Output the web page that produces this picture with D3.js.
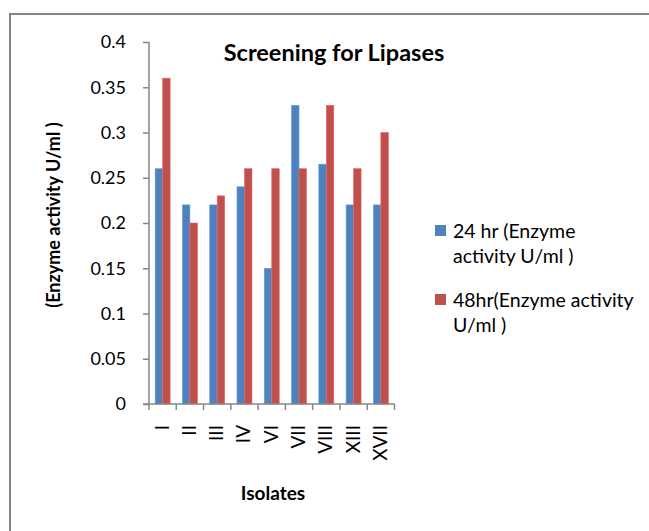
<!DOCTYPE html>
<html>
<head>
<meta charset="utf-8">
<script src="https://cdn.jsdelivr.net/npm/d3@7"></script>
<style>
  html, body { margin: 0; padding: 0; background: #fff; }
  svg { display: block; }
  text { font-family: Lato, "Liberation Sans", sans-serif; fill: #000; }
</style>
</head>
<body>
<svg id="chart" width="649" height="531"></svg>
<script>
// Isolates screened and the lipase activity measured at 24 h and 48 h
const isolates = ["I", "II", "III", "IV", "VI", "VII", "VIII", "XIII", "XVII"];
const activity24 = [0.26, 0.22, 0.22, 0.24, 0.15, 0.33, 0.265, 0.22, 0.22];
const activity48 = [0.36, 0.20, 0.23, 0.26, 0.26, 0.26, 0.33, 0.26, 0.30];
const seriesNames = ["24 hr (Enzyme activity U/ml )", "48hr(Enzyme activity U/ml )"];
const legendLines = [["24 hr (Enzyme", "activity U/ml )"], ["48hr(Enzyme activity", "U/ml )"]];
const yTicks = [0, 0.05, 0.1, 0.15, 0.2, 0.25, 0.3, 0.35, 0.4];
const colors = ["#4F81BD", "#C0504D"];

const svg = d3.select("#chart");

// outer chart frame
svg.append("rect")
  .attr("x", 10).attr("y", 14)
  .attr("width", 700).attr("height", 600)
  .attr("fill", "none").attr("stroke", "#868686").attr("stroke-width", 2);

const plot = { left: 149, right: 394.5, top: 42, bottom: 404 };

const x = d3.scaleBand().domain(isolates).range([plot.left, plot.right]).padding(0);
const xs = d3.scaleBand().domain([0, 1]).range([0, x.bandwidth()]).paddingInner(0).paddingOuter(0.82);
const y = d3.scaleLinear().domain([0, 0.4]).range([plot.bottom, plot.top]);

const rows = isolates.map((k, i) => ({ key: k, values: [activity24[i], activity48[i]] }));

// bars
const groups = svg.append("g").selectAll("g").data(rows).join("g")
  .attr("transform", d => `translate(${x(d.key)},0)`);
groups.selectAll("rect").data(d => d.values.map((v, s) => ({ v, s }))).join("rect")
  .attr("x", d => xs(d.s))
  .attr("width", xs.bandwidth())
  .attr("y", d => y(d.v))
  .attr("height", d => y(0) - y(d.v))
  .attr("fill", d => colors[d.s])
  .attr("stroke", d => d3.color(colors[d.s]).brighter(0.6))
  .attr("stroke-width", 0.6);

// y axis
const yAxis = d3.axisLeft(y).tickValues(yTicks).tickSize(6).tickPadding(17)
  .tickFormat(d => d3.format("")(+d.toFixed(2)));
const gy = svg.append("g").attr("transform", `translate(${plot.left},0)`).call(yAxis);
gy.selectAll("path, line").attr("stroke", "#868686").attr("stroke-width", 1.5);
gy.select(".domain").attr("d", `M0,${plot.top}V${plot.bottom}`);
gy.selectAll("text").attr("font-size", 18).attr("font-family", "Lato, sans-serif").attr("fill", "#000");

// x axis with ticks between categories
const gx = svg.append("g").attr("transform", `translate(0,${plot.bottom})`);
gx.append("line").attr("x1", plot.left - 6).attr("x2", plot.right).attr("y1", 0).attr("y2", 0)
  .attr("stroke", "#868686").attr("stroke-width", 1.5);
const bounds = isolates.map(k => x(k)).concat([plot.right]);
gx.selectAll("line.tick").data(bounds).join("line").attr("class", "tick")
  .attr("x1", d => d).attr("x2", d => d).attr("y1", 0).attr("y2", 6)
  .attr("stroke", "#868686").attr("stroke-width", 1.5);
gx.selectAll("text").data(isolates).join("text")
  .attr("transform", d => `translate(${x(d) + x.bandwidth() / 2 + 6},21) rotate(-90)`)
  .attr("text-anchor", "end")
  .attr("font-size", 19)
  .text(d => d);

// titles
svg.append("text").attr("x", 334).attr("y", 61).attr("text-anchor", "middle")
  .attr("font-size", 23.5).attr("font-weight", "bold").text("Screening for Lipases");
svg.append("text").attr("x", 273).attr("y", 500).attr("text-anchor", "middle")
  .attr("font-size", 19).attr("font-weight", "bold").text("Isolates");
svg.append("text").attr("transform", "translate(60,215) rotate(-90)").attr("text-anchor", "middle")
  .attr("font-size", 18).attr("font-weight", "bold").text("(Enzyme activity U/ml )");

// legend
const legend = svg.append("g");
const legendTop = [225, 294];
legendLines.forEach((lines, i) => {
  legend.append("rect").attr("x", 435).attr("y", legendTop[i]).attr("width", 11).attr("height", 11)
    .attr("fill", colors[i]);
  const t = legend.append("text").attr("x", 453).attr("y", legendTop[i] + 13).attr("font-size", 19.5)
    .attr("aria-label", seriesNames[i]);
  lines.forEach((ln, j) => t.append("tspan").attr("x", 453).attr("dy", j === 0 ? 0 : 25).text(ln));
});
</script>
</body>
</html>
